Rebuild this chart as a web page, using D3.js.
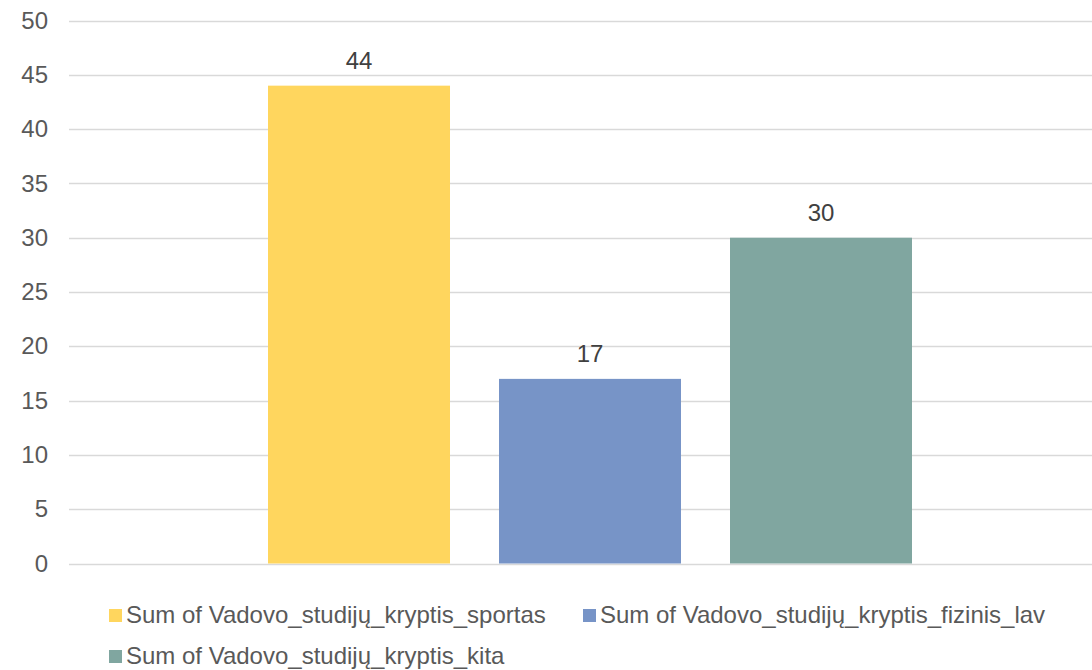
<!DOCTYPE html>
<html>
<head>
<meta charset="utf-8">
<script src="https://cdn.jsdelivr.net/npm/d3@7"></script>
<style>
  html, body { margin: 0; padding: 0; background: #fff; }
  svg { display: block; font-family: "Liberation Sans", Arial, sans-serif; }
</style>
</head>
<body>
<svg id="chart" width="1092" height="670"></svg>
<script>
const categories = ["Total"];
const seriesNames = [
  "Sum of Vadovo_studijų_kryptis_sportas",
  "Sum of Vadovo_studijų_kryptis_fizinis_lav",
  "Sum of Vadovo_studijų_kryptis_kita"
];
const seriesValues = [44, 17, 30];
const seriesColors = ["#FFD65E", "#7794C7", "#80A6A0"];
const yTicks = [0, 5, 10, 15, 20, 25, 30, 35, 40, 45, 50];

const svg = d3.select("#chart");

const y = d3.scaleLinear().domain([0, 50]).range([563.5, 20.5]);
const x0 = d3.scaleBand().domain(categories).range([69, 1111]);
const x1 = d3.scaleBand().domain(seriesNames)
  .range([243.5, 936.5]).paddingInner(49 / 231).paddingOuter(49 / 462);

// gridlines
svg.append("g")
  .selectAll("line")
  .data(yTicks)
  .join("line")
  .attr("x1", 69).attr("x2", 1111)
  .attr("y1", d => Math.round(y(d)) + 0.5).attr("y2", d => Math.round(y(d)) + 0.5)
  .attr("stroke", "#D9D9D9").attr("stroke-width", 1.5);

// y axis labels
const yAxis = d3.axisLeft(y).tickValues(yTicks).tickSize(0).tickPadding(0);
const ga = svg.append("g").attr("transform", "translate(48,0)").call(yAxis);
ga.select(".domain").remove();
ga.selectAll("text")
  .attr("fill", "#595959")
  .style("font-size", "24px")
  .style("font-family", "Liberation Sans, Arial, sans-serif");

// bars
const data = seriesNames.map((s, i) => ({ s, v: seriesValues[i], c: seriesColors[i] }));
svg.append("g")
  .selectAll("rect")
  .data(data)
  .join("rect")
  .attr("x", d => x1(d.s))
  .attr("width", x1.bandwidth())
  .attr("y", d => y(d.v))
  .attr("height", d => y(0) - y(d.v))
  .attr("fill", d => d.c);

// data labels
svg.append("g")
  .selectAll("text")
  .data(data)
  .join("text")
  .attr("x", d => x1(d.s) + x1.bandwidth() / 2)
  .attr("y", d => y(d.v) - 17)
  .attr("text-anchor", "middle")
  .attr("fill", "#404040")
  .style("font-size", "24px")
  .text(d => d.v);

// legend
const legendPos = [[109, 609], [583, 609], [109, 650]];
const lg = svg.append("g")
  .selectAll("g")
  .data(data)
  .join("g")
  .attr("transform", (d, i) => `translate(${legendPos[i][0]},${legendPos[i][1]})`);
lg.append("rect").attr("width", 13).attr("height", 13).attr("fill", d => d.c);
lg.append("text")
  .attr("x", 17).attr("y", 14.3)
  .attr("fill", "#595959")
  .style("font-size", "24px")
  .text(d => d.s);
</script>
</body>
</html>
